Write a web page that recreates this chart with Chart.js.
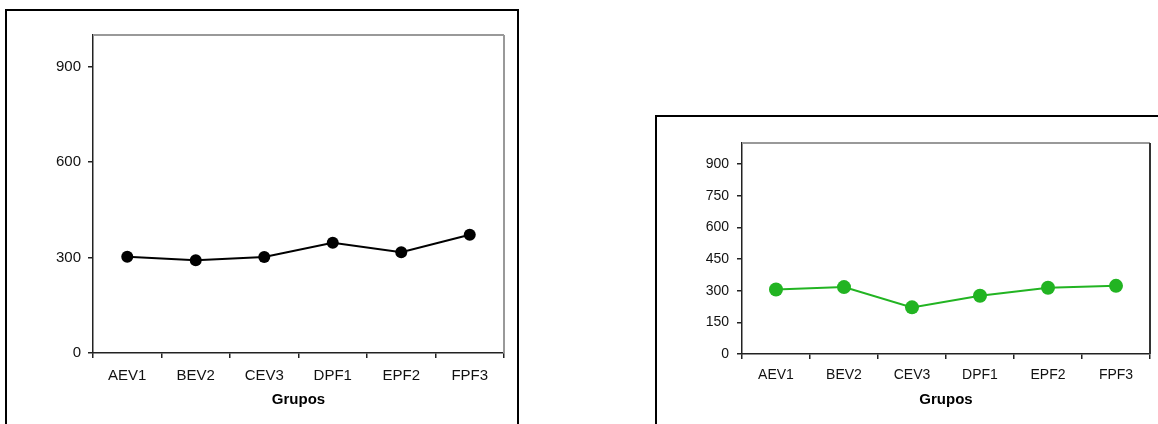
<!DOCTYPE html>
<html>
<head>
<meta charset="utf-8">
<script src="https://cdn.jsdelivr.net/npm/chart.js@4.4.0/dist/chart.umd.min.js"></script>
<style>
  html, body { margin: 0; padding: 0; background: #fff; width: 1158px; height: 424px; overflow: hidden; }
  canvas { position: absolute; top: 0; }
  .marco { position: absolute; border: 2px solid #000; box-sizing: border-box; pointer-events: none; }
</style>
</head>
<body>
<canvas id="graficoIzq" width="580" height="424" style="left:0"></canvas>
<canvas id="graficoDer" width="578" height="424" style="left:580px"></canvas>
<div class="marco" style="left:5px; top:9px; width:514px; height:440px;"></div>
<div class="marco" style="left:655px; top:115px; width:540px; height:340px;"></div>

<script>
const grupos = ["AEV1", "BEV2", "CEV3", "DPF1", "EPF2", "FPF3"];
const valoresIzq = [303, 292, 302, 347, 317, 372];
const valoresDer = [306, 317, 221, 276, 314, 323];
const ticksIzq = [0, 300, 600, 900];
const ticksDer = [0, 150, 300, 450, 600, 750, 900];

// gray frame on top and right of the plot area
const marcoPlot = {
  id: "marcoPlot",
  beforeDatasetsDraw(chart, args, opts) {
    const a = chart.chartArea, ctx = chart.ctx;
    ctx.save();
    ctx.lineWidth = 2;
    ctx.strokeStyle = opts.top || "#999";
    ctx.beginPath(); ctx.moveTo(a.left, a.top); ctx.lineTo(a.right, a.top); ctx.stroke();
    ctx.strokeStyle = opts.right || "#999";
    ctx.beginPath(); ctx.moveTo(a.right, a.top); ctx.lineTo(a.right, a.bottom); ctx.stroke();
    ctx.restore();
  }
};

function crearGrafico(id, valores, ticks, cfg) {
  const ctx = document.getElementById(id).getContext("2d");
  return new Chart(ctx, {
    type: "line",
    data: {
      labels: grupos,
      datasets: [{
        data: valores,
        borderColor: cfg.color,
        backgroundColor: cfg.color,
        borderWidth: cfg.lineWidth,
        pointRadius: cfg.radius,
        pointHoverRadius: cfg.radius,
        pointBorderWidth: 0,
        tension: 0
      }]
    },
    options: {
      responsive: false,
      animation: false,
      layout: { padding: cfg.padding },
      plugins: { legend: { display: false }, tooltip: { enabled: false }, marcoPlot: cfg.frame },
      scales: {
        x: {
          offset: true,
          grid: { offset: true, drawOnChartArea: false, tickLength: 5, color: "#222", lineWidth: 1.5 },
          border: { color: "#222", width: 1.5 },
          ticks: { color: "#111", font: { family: "Liberation Sans", size: cfg.font }, padding: cfg.xPad, maxRotation: 0 },
          title: { display: true, text: "Grupos", color: "#000", font: { family: "Liberation Sans", size: 15, weight: "bold" }, padding: { bottom: 15 } },
          afterFit: s => { s.height = 424 - cfg.bottom; }
        },
        y: {
          min: 0, max: 1000,
          afterBuildTicks: s => { s.ticks = ticks.map(v => ({ value: v })); },
          grid: { drawOnChartArea: false, tickLength: 5, color: "#222", lineWidth: 1.5 },
          border: { color: "#222", width: 1.5 },
          ticks: { color: "#111", font: { family: "Liberation Sans", size: cfg.font }, padding: cfg.yPad },
          afterFit: s => { s.width = cfg.yWidth; }
        }
      }
    },
    plugins: [marcoPlot]
  });
}

crearGrafico("graficoIzq", valoresIzq, ticksIzq, {
  color: "#000", lineWidth: 2, radius: 6, font: 15, xPad: 9, yPad: 7,
  yWidth: 93, bottom: 353, padding: { top: 35, right: 76, left: 0, bottom: 0 },
  frame: { top: "#999", right: "#999" }
});

crearGrafico("graficoDer", valoresDer, ticksDer, {
  color: "#22b422", lineWidth: 2, radius: 7, font: 14, xPad: 8, yPad: 8,
  yWidth: 162, bottom: 354, padding: { top: 143, right: 8, left: 0, bottom: 0 },
  frame: { top: "#999", right: "#333" }
});
</script>
</body>
</html>
